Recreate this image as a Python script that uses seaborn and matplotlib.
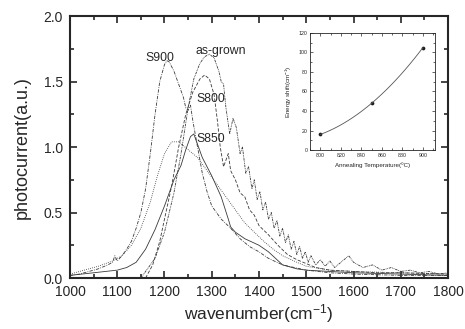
import numpy as np
import pandas as pd
import matplotlib
matplotlib.use('Agg')
import matplotlib.pyplot as plt
from matplotlib.ticker import MultipleLocator, FormatStrFormatter
import seaborn as sns

# main spectra (wavenumber cm-1, photocurrent a.u.)
s900_x = [1000, 1020, 1040, 1060, 1080, 1090, 1095, 1100, 1110, 1120, 1130, 1140, 1150, 1160, 1170, 1180,
          1190, 1200, 1205, 1210, 1220, 1230, 1240, 1245, 1250, 1255, 1260, 1270, 1280, 1290, 1300, 1320,
          1340, 1360, 1380, 1400, 1420, 1450, 1500, 1550, 1600, 1700, 1800]
s900_y = [0.02, 0.03, 0.05, 0.07, 0.10, 0.12, 0.17, 0.13, 0.17, 0.22, 0.28, 0.38, 0.50, 0.68, 0.95, 1.25,
          1.50, 1.63, 1.66, 1.65, 1.58, 1.48, 1.38, 1.30, 1.28, 1.32, 1.20, 1.00, 0.80, 0.66, 0.55, 0.45,
          0.38, 0.30, 0.24, 0.20, 0.15, 0.10, 0.06, 0.04, 0.03, 0.02, 0.02]

s850_x = [1000, 1050, 1100, 1120, 1140, 1160, 1180, 1200, 1220, 1235, 1245, 1255, 1262, 1270, 1280, 1300,
          1320, 1335, 1340, 1350, 1370, 1400, 1420, 1450, 1480, 1500, 1550, 1600, 1700, 1800]
s850_y = [0.02, 0.04, 0.06, 0.08, 0.12, 0.22, 0.37, 0.55, 0.75, 0.86, 0.98, 1.08, 1.10, 1.02, 0.92, 0.78,
          0.62, 0.45, 0.39, 0.35, 0.30, 0.25, 0.20, 0.10, 0.07, 0.06, 0.05, 0.04, 0.03, 0.02]

dot_x = [1000, 1030, 1060, 1090, 1110, 1130, 1150, 1170, 1185, 1200, 1215, 1230, 1250, 1270, 1290, 1310,
         1330, 1350, 1370, 1390, 1410, 1430, 1450, 1480, 1500, 1550, 1600, 1700, 1800]
dot_y = [0.03, 0.06, 0.09, 0.13, 0.17, 0.25, 0.38, 0.58, 0.78, 0.95, 1.04, 1.04, 0.98, 0.92, 0.82, 0.72,
         0.62, 0.52, 0.42, 0.35, 0.28, 0.22, 0.17, 0.12, 0.09, 0.06, 0.05, 0.04, 0.03]

s800_x = [1160, 1175, 1190, 1200, 1215, 1230, 1245, 1260, 1275, 1285, 1295, 1305, 1312, 1318, 1325, 1335,
          1340, 1350, 1360, 1370, 1380, 1390, 1400, 1420, 1440, 1460, 1480, 1500, 1520, 1550, 1600, 1650,
          1700, 1800]
s800_y = [0.00, 0.10, 0.28, 0.45, 0.70, 1.00, 1.25, 1.42, 1.52, 1.55, 1.52, 1.40, 1.20, 1.00, 0.85, 0.95,
          0.82, 0.75, 0.65, 0.62, 0.52, 0.48, 0.40, 0.33, 0.25, 0.18, 0.14, 0.11, 0.08, 0.06, 0.05, 0.04,
          0.04, 0.03]

asg_x = [1150, 1180, 1200, 1220, 1235, 1250, 1262, 1275, 1285, 1295, 1305, 1315, 1320, 1325, 1330, 1338,
         1345, 1352, 1360, 1365, 1372, 1378, 1385, 1390, 1396, 1402, 1408, 1414, 1420, 1426, 1432, 1438,
         1444, 1450, 1456, 1462, 1468, 1474, 1480, 1486, 1492, 1498, 1504, 1510, 1520, 1530, 1540, 1550,
         1560, 1570, 1580, 1590, 1600, 1610, 1620, 1640, 1660, 1680, 1700, 1720, 1740, 1760, 1780, 1800]
asg_y = [0.00, 0.15, 0.35, 0.65, 0.95, 1.30, 1.52, 1.64, 1.69, 1.71, 1.68, 1.58, 1.50, 1.48, 1.30, 1.10,
         1.22, 1.15, 0.95, 1.00, 0.80, 0.85, 0.68, 0.75, 0.60, 0.66, 0.52, 0.58, 0.45, 0.50, 0.38, 0.44,
         0.32, 0.38, 0.27, 0.33, 0.22, 0.28, 0.18, 0.24, 0.15, 0.20, 0.12, 0.17, 0.10, 0.14, 0.09, 0.13,
         0.08, 0.11, 0.14, 0.17, 0.12, 0.10, 0.08, 0.10, 0.06, 0.08, 0.05, 0.06, 0.04, 0.05, 0.03, 0.04]

# inset: energy shift vs annealing temperature
anneal_temp = [800, 850, 900]
energy_shift = [16, 48, 105]

labels = ['S900', 'as-grown', 'S800', 'S850']
label_pos = [(1190, 1.68), (1320, 1.73), (1297, 1.37), (1297, 1.06)]

sns.set_style('ticks')
plt.rcParams['font.family'] = ['Liberation Sans', 'DejaVu Sans']
plt.rcParams['mathtext.default'] = 'regular'

fig = plt.figure(figsize=(4.65, 3.29), dpi=100)
ax = fig.add_axes([0.1505, 0.155, 0.813, 0.796])

series = [
    (s900_x, s900_y, (0, (4, 1.5, 1, 1.5))),
    (dot_x, dot_y, (0, (1, 1.5))),
    (s850_x, s850_y, '-'),
    (s800_x, s800_y, (0, (4, 2))),
    (asg_x, asg_y, (0, (3, 1, 1, 1, 1, 1))),
]
for xs, ys, ls in series:
    sns.lineplot(x=xs, y=ys, ax=ax, color='#3a3a3a', lw=0.6, linestyle=ls, sort=False)

for lab, (lx, ly) in zip(labels, label_pos):
    ax.text(lx, ly, lab, fontsize=8.8, ha='center', va='center')

ax.set_xlim(1000, 1800)
ax.set_ylim(0, 2.0)
ax.xaxis.set_major_locator(MultipleLocator(100))
ax.xaxis.set_minor_locator(MultipleLocator(50))
ax.yaxis.set_major_locator(MultipleLocator(0.5))
ax.yaxis.set_minor_locator(MultipleLocator(0.25))
ax.yaxis.set_major_formatter(FormatStrFormatter('%.1f'))
ax.tick_params(which='both', direction='in', top=True, right=True, labelsize=10, width=1.2)
ax.tick_params(axis='x', pad=5)
ax.tick_params(axis='y', pad=5)
ax.tick_params(which='major', length=5)
ax.tick_params(which='minor', length=3)
for sp in ax.spines.values():
    sp.set_linewidth(1.5)
ax.set_xlabel('wavenumber(cm$^{-1}$)', fontsize=12.5, labelpad=2)
ax.set_ylabel('photocurrent(a.u.)', fontsize=13, labelpad=9)

axin = fig.add_axes([0.667, 0.544, 0.269, 0.356])
sns.regplot(x=anneal_temp, y=energy_shift, order=2, ci=None, ax=axin,
            scatter_kws=dict(s=3, color='black'), line_kws=dict(lw=0.6, color='#555555'))
axin.set_xlim(790, 912)
axin.set_ylim(0, 120)
axin.xaxis.set_major_locator(MultipleLocator(20))
axin.xaxis.set_minor_locator(MultipleLocator(10))
axin.yaxis.set_major_locator(MultipleLocator(20))
axin.yaxis.set_minor_locator(MultipleLocator(10))
axin.tick_params(which='both', direction='in', top=True, right=True, labelsize=3.8, width=0.5, pad=2)
axin.tick_params(which='major', length=2.5)
axin.tick_params(which='minor', length=1.5)
for sp in axin.spines.values():
    sp.set_linewidth(0.6)
axin.set_xlabel('Annealing Temperature(ºC)', fontsize=4.5, labelpad=3)
axin.set_ylabel('Energy shift(cm$^{-1}$)', fontsize=4.5, labelpad=3)

fig.savefig('out.png', dpi=100)
